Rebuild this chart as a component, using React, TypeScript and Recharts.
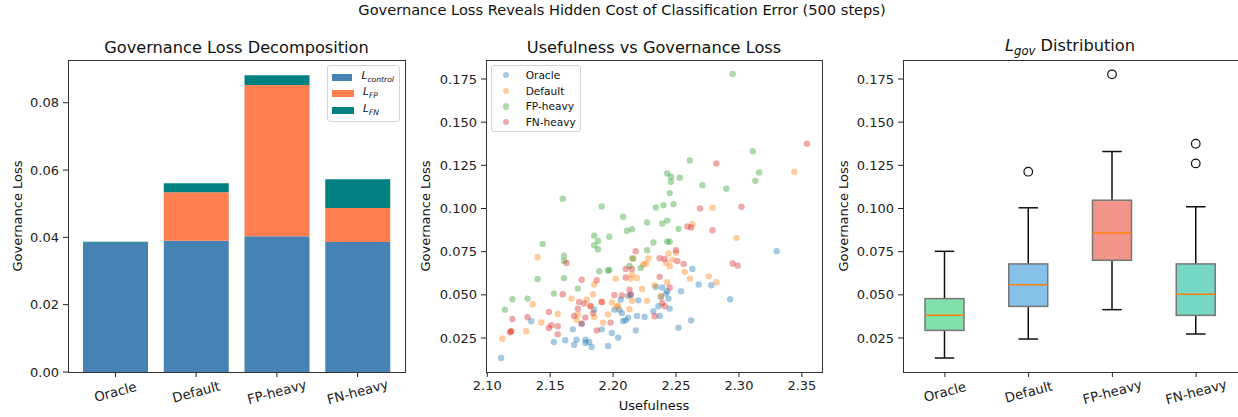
import React from "react";
import {
  Bar,
  BarChart,
  Legend,
  Scatter,
  ScatterChart,
  XAxis,
  YAxis,
} from "recharts";

// categories shared by the bar and box panels
const categories = ["Oracle", "Default", "FP-heavy", "FN-heavy"];

// panel 1: stacked decomposition
const controlLoss = [0.0384, 0.039, 0.0403, 0.0386];
const fpLoss = [0.0, 0.0144, 0.045, 0.0101];
const fnLoss = [0.0003, 0.0027, 0.0029, 0.0086];

// panel 2: usefulness vs governance loss
const oracleUse = [2.111, 2.135, 2.153, 2.162, 2.168, 2.169, 2.171, 2.175, 2.178, 2.178, 2.181, 2.183, 2.185, 2.191, 2.196, 2.199, 2.201, 2.204, 2.205, 2.206, 2.207, 2.208, 2.21, 2.212, 2.212, 2.214, 2.218, 2.219, 2.22, 2.225, 2.232, 2.234, 2.236, 2.237, 2.238, 2.239, 2.242, 2.243, 2.244, 2.245, 2.252, 2.254, 2.262, 2.263, 2.268, 2.278, 2.293, 2.33];
const oracleGov = [0.0134, 0.0347, 0.0227, 0.0237, 0.03, 0.0211, 0.024, 0.0333, 0.024, 0.0221, 0.0227, 0.0198, 0.0414, 0.03, 0.0204, 0.0279, 0.0414, 0.0252, 0.0414, 0.0472, 0.0394, 0.0348, 0.0352, 0.0368, 0.0494, 0.0501, 0.0294, 0.0378, 0.0468, 0.0372, 0.0405, 0.0546, 0.0434, 0.0378, 0.0488, 0.0542, 0.0507, 0.0521, 0.0478, 0.042, 0.031, 0.0521, 0.0352, 0.065, 0.056, 0.0555, 0.0474, 0.0753];

const defaultUse = [2.112, 2.119, 2.131, 2.136, 2.14, 2.143, 2.156, 2.167, 2.171, 2.172, 2.179, 2.182, 2.184, 2.185, 2.185, 2.191, 2.192, 2.196, 2.199, 2.202, 2.203, 2.204, 2.213, 2.214, 2.215, 2.215, 2.215, 2.219, 2.223, 2.224, 2.226, 2.227, 2.228, 2.233, 2.238, 2.242, 2.243, 2.244, 2.245, 2.247, 2.25, 2.257, 2.261, 2.263, 2.276, 2.279, 2.282, 2.298, 2.344];
const defaultGov = [0.0246, 0.0289, 0.0289, 0.0445, 0.0718, 0.034, 0.0389, 0.0478, 0.0356, 0.0387, 0.0472, 0.0436, 0.0503, 0.056, 0.0372, 0.0459, 0.0339, 0.0387, 0.0455, 0.0594, 0.043, 0.0438, 0.0416, 0.0594, 0.0617, 0.071, 0.0465, 0.0598, 0.0534, 0.0677, 0.068, 0.0465, 0.071, 0.0555, 0.0493, 0.0686, 0.0573, 0.0739, 0.0666, 0.0704, 0.0743, 0.0633, 0.0594, 0.0909, 0.0607, 0.1004, 0.0573, 0.083, 0.1213];

const fpUse = [2.114, 2.12, 2.132, 2.14, 2.144, 2.153, 2.16, 2.161, 2.161, 2.161, 2.172, 2.185, 2.185, 2.188, 2.188, 2.189, 2.191, 2.196, 2.197, 2.197, 2.208, 2.211, 2.213, 2.215, 2.216, 2.222, 2.227, 2.227, 2.232, 2.234, 2.239, 2.24, 2.243, 2.243, 2.243, 2.245, 2.245, 2.246, 2.246, 2.248, 2.252, 2.253, 2.261, 2.271, 2.29, 2.295, 2.311, 2.313, 2.316];
const fpGov = [0.0414, 0.0474, 0.0478, 0.0592, 0.0795, 0.0507, 0.1056, 0.0727, 0.0696, 0.0596, 0.0536, 0.0843, 0.0787, 0.0812, 0.0764, 0.0637, 0.1012, 0.0641, 0.0644, 0.0836, 0.0952, 0.0871, 0.0667, 0.088, 0.071, 0.0656, 0.0919, 0.0758, 0.0803, 0.1006, 0.0913, 0.1019, 0.1203, 0.093, 0.0807, 0.0807, 0.1089, 0.1184, 0.1155, 0.1025, 0.0882, 0.1178, 0.1278, 0.1135, 0.1114, 0.1779, 0.1332, 0.116, 0.1209];

const fnUse = [2.118, 2.119, 2.12, 2.132, 2.149, 2.149, 2.151, 2.156, 2.156, 2.16, 2.163, 2.169, 2.172, 2.173, 2.175, 2.175, 2.177, 2.178, 2.182, 2.184, 2.187, 2.187, 2.191, 2.198, 2.201, 2.207, 2.21, 2.21, 2.213, 2.214, 2.215, 2.218, 2.233, 2.237, 2.237, 2.239, 2.241, 2.241, 2.245, 2.25, 2.251, 2.256, 2.259, 2.262, 2.269, 2.279, 2.282, 2.295, 2.299, 2.302, 2.354];
const fnGov = [0.0283, 0.0289, 0.036, 0.037, 0.0401, 0.0308, 0.0324, 0.0318, 0.0271, 0.0503, 0.0685, 0.0378, 0.042, 0.0459, 0.0333, 0.0588, 0.045, 0.0368, 0.0434, 0.0394, 0.0584, 0.0294, 0.0459, 0.0339, 0.0499, 0.0497, 0.065, 0.06, 0.053, 0.0501, 0.065, 0.0753, 0.0376, 0.0712, 0.0604, 0.0453, 0.0434, 0.0708, 0.0542, 0.0758, 0.0696, 0.0679, 0.0896, 0.089, 0.1, 0.0874, 0.1261, 0.0681, 0.0669, 0.101, 0.1375];

// panel 3: box statistics
const whiskLow = [0.0134, 0.0244, 0.0414, 0.0273];
const q1 = [0.0294, 0.0433, 0.07, 0.0381];
const median = [0.0381, 0.0559, 0.0858, 0.0503];
const q3 = [0.0478, 0.0679, 0.1048, 0.0679];
const whiskHigh = [0.0752, 0.1004, 0.133, 0.101];
const outliers = [[], [0.1213], [0.1777], [0.1261, 0.1375]];
const boxColors = ["#82E0AA", "#85C1E9", "#F1948A", "#76D7C4"];

const barTicks = [0, 0.02, 0.04, 0.06, 0.08];
const useTicks = [2.1, 2.15, 2.2, 2.25, 2.3, 2.35];
const govTicks = [0.025, 0.05, 0.075, 0.1, 0.125, 0.15, 0.175];

const FONT = "'DejaVu Sans', sans-serif";
const SPINE = "#333";
const TICK = { fill: "#222", fontSize: 13, fontFamily: FONT };

const barData = categories.map((name, i) => ({
  name,
  control: controlLoss[i],
  fp: fpLoss[i],
  fn: fnLoss[i],
}));

const boxData = categories.map((name, i) => ({
  name,
  range: [whiskLow[i], whiskHigh[i]],
  q1: q1[i],
  med: median[i],
  q3: q3[i],
  out: outliers[i],
  color: boxColors[i],
}));

const pairs = (xs: number[], ys: number[]) => xs.map((x, i) => ({ x, y: ys[i] }));

const scatterSeries = [
  { name: "Oracle", color: "#1f77b4", data: pairs(oracleUse, oracleGov) },
  { name: "Default", color: "#ff7f0e", data: pairs(defaultUse, defaultGov) },
  { name: "FP-heavy", color: "#2ca02c", data: pairs(fpUse, fpGov) },
  { name: "FN-heavy", color: "#d62728", data: pairs(fnUse, fnGov) },
];

const barSeries = [
  { key: "control", sub: "control", color: "#4682b4" },
  { key: "fp", sub: "FP", color: "#ff7f50" },
  { key: "fn", sub: "FN", color: "#008080" },
];

const RotTick = (props: any) => {
  const { x, y, payload } = props;
  return (
    <g transform={`translate(${x},${y + 13})`}>
      <text
        transform="rotate(-15)"
        textAnchor="middle"
        dominantBaseline="central"
        fontSize={13.3}
        fontFamily={FONT}
        fill="#222"
      >
        {payload.value}
      </text>
    </g>
  );
};

const BoxShape = (props: any) => {
  const { x, y, width, height, payload } = props;
  const top = Math.min(y, y + height);
  const h = Math.abs(height);
  const [lo, hi] = payload.range;
  const k = h / (hi - lo);
  const yOf = (v: number) => top + (hi - v) * k;
  const cx = x + width / 2;
  const cap = width / 4;
  return (
    <g>
      <line x1={cx} x2={cx} y1={yOf(hi)} y2={yOf(payload.q3)} stroke="#111" strokeWidth={1.5} />
      <line x1={cx} x2={cx} y1={yOf(payload.q1)} y2={yOf(lo)} stroke="#111" strokeWidth={1.5} />
      <line x1={cx - cap} x2={cx + cap} y1={yOf(hi)} y2={yOf(hi)} stroke="#111" strokeWidth={1.5} />
      <line x1={cx - cap} x2={cx + cap} y1={yOf(lo)} y2={yOf(lo)} stroke="#111" strokeWidth={1.5} />
      <rect
        x={x}
        y={yOf(payload.q3)}
        width={width}
        height={yOf(payload.q1) - yOf(payload.q3)}
        fill={payload.color}
        stroke="#777"
        strokeWidth={1.5}
      />
      <line x1={x} x2={x + width} y1={yOf(payload.med)} y2={yOf(payload.med)} stroke="#ff7f0e" strokeWidth={1.5} />
      {payload.out.map((v: number, i: number) => (
        <circle key={i} cx={cx} cy={yOf(v)} r={4.3} fill="none" stroke="#111" strokeWidth={1.2} />
      ))}
    </g>
  );
};

const subStyle: React.CSSProperties = { fontSize: "0.72em", fontStyle: "italic" };

const BarLegend = () => (
  <div
    style={{
      border: "1px solid #d4d4d4",
      borderRadius: 3,
      background: "rgba(255,255,255,0.8)",
      padding: "3px 5px 2px 4px",
      fontFamily: FONT,
      fontSize: 10.6,
      lineHeight: "16px",
      width: 62,
      color: "#111",
    }}
  >
    {barSeries.map((s) => (
      <div key={s.key} style={{ display: "flex", alignItems: "center", height: 16.5 }}>
        <span style={{ width: 22, height: 7, background: s.color, marginRight: 9, display: "inline-block" }} />
        <span>
          <i>L</i>
          <sub style={subStyle}>{s.sub}</sub>
        </span>
      </div>
    ))}
  </div>
);

const ScatterLegend = () => (
  <div
    style={{
      border: "1px solid #d4d4d4",
      borderRadius: 3,
      background: "rgba(255,255,255,0.8)",
      padding: "1px 0 1px 10.8px",
      fontFamily: FONT,
      fontSize: 10.6,
      width: 90,
      height: 67,
      boxSizing: "border-box",
      whiteSpace: "nowrap",
      color: "#111",
    }}
  >
    {scatterSeries.map((s) => (
      <div key={s.name} style={{ display: "flex", alignItems: "center", height: 15.8 }}>
        <span
          style={{
            width: 6.4,
            height: 6.4,
            borderRadius: "50%",
            background: s.color,
            opacity: 0.4,
            marginRight: 16.5,
            display: "inline-block",
            flexShrink: 0,
          }}
        />
        <span>{s.name}</span>
      </div>
    ))}
  </div>
);

const text = (s: React.CSSProperties): React.CSSProperties => ({
  position: "absolute",
  fontFamily: FONT,
  color: "#111",
  whiteSpace: "nowrap",
  ...s,
});

const yLabel = (cx: number, cy: number): React.CSSProperties =>
  text({ left: cx, top: cy, fontSize: 13, transform: "translate(-50%,-50%) rotate(-90deg)" });

// axes frame (matplotlib draws all four spines)
const frame = (left: number, top: number, width: number, height: number): React.CSSProperties => ({
  position: "absolute",
  left: left - 0.5,
  top: top - 0.5,
  width,
  height,
  border: `1px solid ${SPINE}`,
  boxSizing: "border-box",
  pointerEvents: "none",
});

export default function App() {
  return (
    <div style={{ position: "absolute", left: 0, top: 0, width: 1238, height: 417, background: "#fff", overflow: "hidden" }}>
      <div style={text({ left: 622, top: 9, fontSize: 14.6, transform: "translate(-50%,-50%)" })}>
        Governance Loss Reveals Hidden Cost of Classification Error (500 steps)
      </div>

      {/* panel 1 */}
      <div style={{ position: "absolute", left: 0, top: 0 }}>
        <BarChart width={420} height={417} data={barData} margin={{ top: 60, right: 15, left: 18, bottom: 0 }}>
          <XAxis
            dataKey="name"
            height={45}
            padding={{ left: 7, right: 7 }}
            tick={<RotTick />}
            tickSize={5}
            axisLine={false}
            tickLine={{ stroke: "#222" }}
          />
          <YAxis
            width={50}
            domain={[0, 0.0927]}
            ticks={barTicks}
            allowDataOverflow
            tickFormatter={(v: number) => v.toFixed(2)}
            tick={TICK}
            tickSize={5}
            tickMargin={4}
            axisLine={false}
            tickLine={{ stroke: "#222" }}
          />
          {barSeries.map((s) => (
            <Bar key={s.key} dataKey={s.key} stackId="a" fill={s.color} barSize={65} isAnimationActive={false} />
          ))}
          <Legend
            content={<BarLegend />}
            layout="horizontal"
            verticalAlign="middle"
            align="center"
            wrapperStyle={{ position: "absolute", left: 327, top: 65, width: "auto" }}
          />
        </BarChart>
      </div>
      <div style={frame(68, 60, 338, 313)} />
      <div style={text({ left: 236.5, top: 46.5, fontSize: 16.2, transform: "translate(-50%,-50%)" })}>
        Governance Loss Decomposition
      </div>
      <div style={yLabel(17, 216)}>Governance Loss</div>

      {/* panel 2 */}
      <div style={{ position: "absolute", left: 420, top: 0 }}>
        <ScatterChart width={420} height={417} margin={{ top: 60, right: 18, left: 11, bottom: 0 }}>
          <XAxis
            dataKey="x"
            type="number"
            domain={[2.099, 2.366]}
            ticks={useTicks}
            allowDataOverflow
            tickFormatter={(v: number) => v.toFixed(2)}
            height={45}
            tick={TICK}
            tickSize={5}
            tickMargin={4}
            axisLine={false}
            tickLine={{ stroke: "#222" }}
          />
          <YAxis
            dataKey="y"
            type="number"
            width={55}
            domain={[0.0053, 0.186]}
            ticks={govTicks}
            allowDataOverflow
            tickFormatter={(v: number) => v.toFixed(3)}
            tick={TICK}
            tickSize={5}
            tickMargin={4}
            axisLine={false}
            tickLine={{ stroke: "#222" }}
          />
          {scatterSeries.map((s) => (
            <Scatter
              key={s.name}
              name={s.name}
              data={s.data}
              fill={s.color}
              isAnimationActive={false}
              shape={(p: any) => <circle cx={p.cx} cy={p.cy} r={3.2} fill={s.color} fillOpacity={0.4} />}
            />
          ))}
          <Legend
            content={<ScatterLegend />}
            layout="horizontal"
            verticalAlign="middle"
            align="center"
            wrapperStyle={{ position: "absolute", left: 71, top: 65, width: "auto" }}
          />
        </ScatterChart>
      </div>
      <div style={frame(486, 60, 337, 313)} />
      <div style={text({ left: 654, top: 46.5, fontSize: 16.2, transform: "translate(-50%,-50%)" })}>
        Usefulness vs Governance Loss
      </div>
      <div style={text({ left: 654, top: 405, fontSize: 13, transform: "translate(-50%,-50%)" })}>Usefulness</div>
      <div style={yLabel(425, 216)}>Governance Loss</div>

      {/* panel 3 */}
      <div style={{ position: "absolute", left: 820, top: 0 }}>
        <BarChart width={418} height={417} data={boxData} margin={{ top: 60, right: 0, left: 28, bottom: 0 }}>
          <XAxis
            dataKey="name"
            height={45}
            tick={<RotTick />}
            tickSize={5}
            axisLine={false}
            tickLine={{ stroke: "#222" }}
          />
          <YAxis
            width={55}
            domain={[0.0053, 0.186]}
            ticks={govTicks}
            allowDataOverflow
            tickFormatter={(v: number) => v.toFixed(3)}
            tick={TICK}
            tickSize={5}
            tickMargin={4}
            axisLine={false}
            tickLine={{ stroke: "#222" }}
          />
          <Bar dataKey="range" barSize={39} shape={<BoxShape />} isAnimationActive={false} />
        </BarChart>
      </div>
      <div style={frame(903, 60, 336, 313)} />
      <div style={text({ left: 1070, top: 46.5, fontSize: 16.2, transform: "translate(-50%,-50%)" })}>
        <i>L</i>
        <sub style={subStyle}>gov</sub> Distribution
      </div>
      <div style={yLabel(842.5, 216)}>Governance Loss</div>
    </div>
  );
}
